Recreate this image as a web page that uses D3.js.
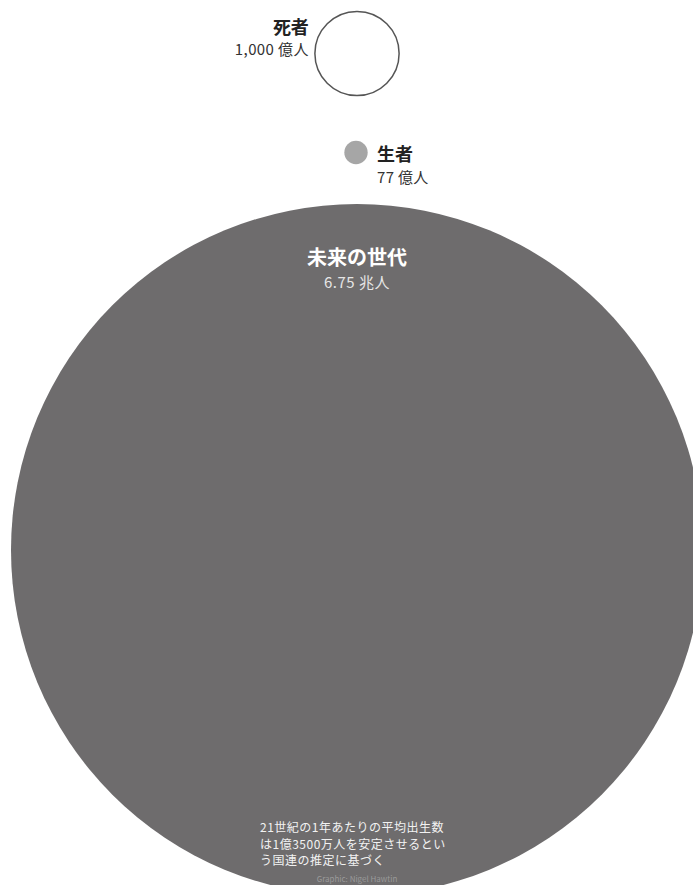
<!DOCTYPE html>
<html>
<head>
<meta charset="utf-8">
<script src="https://cdn.jsdelivr.net/npm/d3@7"></script>
<style>
  body { margin: 0; background: #fff; }
  svg { display: block; }
  text { font-family: "Noto Sans CJK JP", "Noto Sans", sans-serif; }
</style>
</head>
<body>
<svg id="chart"></svg>
<script>
// values in 億人 (100 million people)
const groups = ["dead", "living", "future"];
const names = ["死者", "生者", "未来の世代"];
const valueLabels = ["1,000 億人", "77 億人", "6.75 兆人"];
const values = [1000, 77, 67500];
const noteLines = [
    "21世紀の1年あたりの平均出生数",
    "は1億3500万人を安定させるとい",
    "う国連の推定に基づく"
];
const credit = "Graphic: Nigel Hawtin";

const width = 693, height = 885;
const cx = 357;

const svg = d3.select("#chart")
    .attr("width", width)
    .attr("height", height);

// area proportional to value
const r = d3.scaleSqrt().domain([0, d3.max(values)]).range([0, 346]);

// vertical centres of each circle
const centreY = {dead: 53.5, living: 152.5, future: 550};
const fills = {dead: "#fff", living: "#a6a6a6", future: "#6e6c6d"};

const data = groups.map((g, i) => ({key: g, name: names[i], label: valueLabels[i], value: values[i]}));

svg.selectAll("circle.bubble")
    .data(data)
    .enter()
    .append("circle")
    .attr("class", "bubble")
    .attr("cx", d => d.key === "living" ? cx - 1 : cx)
    .attr("cy", d => centreY[d.key])
    .attr("r", d => r(d.value))
    .style("fill", d => fills[d.key])
    .style("stroke", d => d.key === "dead" ? "#555" : "none")
    .style("stroke-width", 1.5);

// dead: labels to the left
const dead = data[0];
svg.append("text")
    .attr("x", cx - r(dead.value) - 6)
    .attr("y", 34)
    .attr("text-anchor", "end")
    .style("font-size", "18px")
    .style("font-weight", 700)
    .style("fill", "#222")
    .text(dead.name);
svg.append("text")
    .attr("x", cx - r(dead.value) - 6)
    .attr("y", 55)
    .attr("text-anchor", "end")
    .style("font-size", "15px")
    .style("letter-spacing", "0.4px")
    .style("fill", "#333")
    .text(dead.label);

// living: labels to the right
const living = data[1];
svg.append("text")
    .attr("x", 377)
    .attr("y", 161)
    .style("font-size", "18px")
    .style("font-weight", 700)
    .style("fill", "#222")
    .text(living.name);
svg.append("text")
    .attr("x", 377)
    .attr("y", 183)
    .style("font-size", "15px")
    .style("letter-spacing", "0.3px")
    .style("fill", "#333")
    .text(living.label);

// future: labels inside the big circle
const future = data[2];
svg.append("text")
    .attr("x", cx)
    .attr("y", 265)
    .attr("text-anchor", "middle")
    .style("font-size", "20px")
    .style("font-weight", 700)
    .style("fill", "#fff")
    .text(future.name);
svg.append("text")
    .attr("x", cx)
    .attr("y", 288)
    .attr("text-anchor", "middle")
    .style("font-size", "15px")
    .style("letter-spacing", "0.5px")
    .style("fill", "#e6e6e6")
    .text(future.label);

// footnote
svg.selectAll("text.note")
    .data(noteLines)
    .enter()
    .append("text")
    .attr("class", "note")
    .attr("x", 260)
    .attr("y", (d, i) => 832 + i * 16.5)
    .style("font-size", "12px")
    .style("letter-spacing", "0.5px")
    .style("fill", "#f2f2f2")
    .text(d => d);

svg.append("text")
    .attr("x", cx)
    .attr("y", 882)
    .attr("text-anchor", "middle")
    .style("font-size", "8px")
    .style("fill", "#9a9a9a")
    .text(credit);
</script>
</body>
</html>
